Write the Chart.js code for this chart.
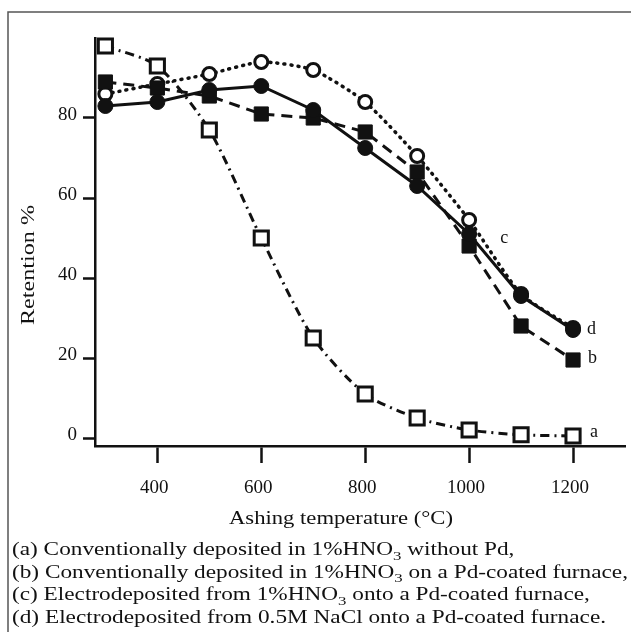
<!DOCTYPE html>
<html>
<head>
<meta charset="utf-8">
<script src="https://cdn.jsdelivr.net/npm/chart.js@4.4.0/dist/chart.umd.min.js"></script>
<style>
  html, body { margin: 0; padding: 0; background: #fff; }
  canvas { display: block; }
</style>
</head>
<body>
<canvas id="retentionChart" width="631" height="640"></canvas>
<script>
// ashing temperatures (°C)
const temps = [300, 400, 500, 600, 700, 800, 900, 1000, 1100, 1200];

// retention %
const seriesA = [98, 93, 77, 50, 25, 11, 5, 2, 0.8, 0.5];
const seriesB = [89, 87.5, 85.5, 81, 80, 76.5, 66.5, 48, 28, 19.5];
const seriesC = [86, 88.5, 91, 94, 92, 84, 70.5, 54.5, 36, 27.5];
const seriesD = [83, 84, 87, 88, 82, 72.5, 63, 51, 35.5, 27];

const seriesNames = ["a", "b", "c", "d"];
const xTicks = [400, 600, 800, 1000, 1200];
const yTicks = [0, 20, 40, 60, 80];

const xTitle = "Ashing temperature (°C)";
const yTitle = "Retention %";

// "_" marks a subscript run
const legendLines = [
    ["(a) Conventionally deposited in 1%HNO", "_3", " without Pd,"],
    ["(b) Conventionally deposited in 1%HNO", "_3", " on a Pd-coated furnace,"],
    ["(c) Electrodeposited from 1%HNO", "_3", " onto a Pd-coated furnace,"],
    ["(d) Electrodeposited from 0.5M NaCl onto a Pd-coated furnace."]
];

const serif = "'Liberation Serif', 'DejaVu Serif', serif";
const ink = "#111";

const toPoints = (vals) => vals.map((v, i) => ({ x: temps[i], y: v }));

function runsWidth(ctx, runs, size) {
    let w = 0;
    runs.forEach(r => {
        const sub = r.startsWith("_");
        ctx.font = (sub ? Math.round(size * 0.7) : size) + "px " + serif;
        w += ctx.measureText(sub ? r.slice(1) : r).width;
    });
    return w;
}

// draw a line of text runs, stretched horizontally by sx
function drawRuns(ctx, runs, x, y, size, sx) {
    ctx.save();
    ctx.translate(x, y);
    ctx.scale(sx, 1);
    ctx.textAlign = "left";
    ctx.textBaseline = "alphabetic";
    let cx = 0;
    runs.forEach(r => {
        const sub = r.startsWith("_");
        const t = sub ? r.slice(1) : r;
        ctx.font = (sub ? Math.round(size * 0.7) : size) + "px " + serif;
        ctx.fillText(t, cx, sub ? size * 0.25 : 0);
        cx += ctx.measureText(t).width;
    });
    ctx.restore();
}

const annotations = {
    id: "annotations",
    afterDraw(chart) {
        const ctx = chart.ctx;
        const xs = chart.scales.x;
        const ys = chart.scales.y;
        ctx.save();
        ctx.fillStyle = ink;

        // figure frame (top and left edges only)
        ctx.strokeStyle = "#555";
        ctx.lineWidth = 1.5;
        ctx.beginPath();
        ctx.moveTo(631, 12);
        ctx.lineTo(8, 12);
        ctx.lineTo(8, 632);
        ctx.stroke();

        // axis titles
        const tw = runsWidth(ctx, [xTitle], 18);
        drawRuns(ctx, [xTitle], 229, 524, 18, 224 / tw);

        ctx.save();
        ctx.translate(34, 265);
        ctx.rotate(-Math.PI / 2);
        const yw = runsWidth(ctx, [yTitle], 18);
        drawRuns(ctx, [yTitle], -60, 0, 18, 120 / yw);
        ctx.restore();

        // curve letters
        ctx.font = "18px " + serif;
        ctx.textAlign = "left";
        ctx.textBaseline = "middle";
        const last = temps.length - 1;
        const ends = { a: seriesA[last], b: seriesB[last], d: seriesD[last] };
        const nudge = { a: [17, -4], b: [15, -2], d: [14, -1] };
        Object.keys(ends).forEach(k => {
            ctx.fillText(k, xs.getPixelForValue(temps[last]) + nudge[k][0],
                ys.getPixelForValue(ends[k]) + nudge[k][1]);
        });
        ctx.fillText("c", xs.getPixelForValue(1060), ys.getPixelForValue(50));

        // caption below the plot
        const size = 18;
        const sx = 616 / runsWidth(ctx, legendLines[1], size);
        legendLines.forEach((runs, i) => {
            drawRuns(ctx, runs, 12, 555 + i * 22.5, size, sx);
        });
        ctx.restore();
    }
};

const baseSet = {
    borderColor: ink,
    pointBorderColor: ink,
    borderWidth: 3,
    pointBorderWidth: 3,
    pointHoverRadius: 0,
    clip: false
};

new Chart(document.getElementById("retentionChart"), {
    type: "line",
    data: {
        datasets: [
            {
                ...baseSet,
                label: seriesNames[3],
                data: toPoints(seriesD),
                pointStyle: "circle",
                pointRadius: 7.5,
                pointBorderWidth: 1,
                pointBackgroundColor: ink
            },
            {
                ...baseSet,
                label: seriesNames[1],
                data: toPoints(seriesB),
                borderDash: [11, 7],
                pointStyle: "rect",
                pointRadius: 10,
                pointBorderWidth: 1,
                pointBackgroundColor: ink
            },
            {
                ...baseSet,
                label: seriesNames[2],
                data: toPoints(seriesC),
                borderDash: [1, 6],
                borderCapStyle: "round",
                borderWidth: 3.5,
                tension: 0.2,
                pointStyle: "circle",
                pointRadius: 6.5,
                pointBackgroundColor: "#fff"
            },
            {
                ...baseSet,
                label: seriesNames[0],
                data: toPoints(seriesA),
                borderDash: [9, 5, 2, 5],
                tension: 0.25,
                pointStyle: "rect",
                pointRadius: 10,
                pointBackgroundColor: "#fff"
            }
        ]
    },
    options: {
        responsive: false,
        animation: false,
        events: [],
        layout: {
            autoPadding: false,
            padding: { top: 38, right: 6, left: 0, bottom: 0 }
        },
        plugins: {
            legend: { display: false },
            tooltip: { enabled: false }
        },
        scales: {
            x: {
                type: "linear",
                min: 280,
                max: 1300,
                afterBuildTicks: (s) => { s.ticks = xTicks.map(v => ({ value: v })); },
                afterFit: (s) => { s.height = 194; },
                border: { color: ink, width: 2.5 },
                grid: { drawOnChartArea: false, tickLength: 17, tickColor: ink, tickWidth: 2.5 },
                ticks: {
                    color: ink,
                    font: { family: serif, size: 19 },
                    padding: 14,
                    labelOffset: -3,
                    maxRotation: 0,
                    autoSkip: false,
                    callback: (v) => String(v)
                }
            },
            y: {
                min: -2,
                max: 100,
                afterBuildTicks: (s) => { s.ticks = yTicks.map(v => ({ value: v })); },
                afterFit: (s) => { s.width = 95; },
                border: { color: ink, width: 2.5 },
                grid: { drawOnChartArea: false, tickLength: 12, tickColor: ink, tickWidth: 2.5 },
                ticks: {
                    color: ink,
                    font: { family: serif, size: 19 },
                    padding: 6,
                    labelOffset: -3,
                    autoSkip: false,
                    callback: (v) => String(v)
                }
            }
        }
    },
    plugins: [annotations]
});
</script>
</body>
</html>
